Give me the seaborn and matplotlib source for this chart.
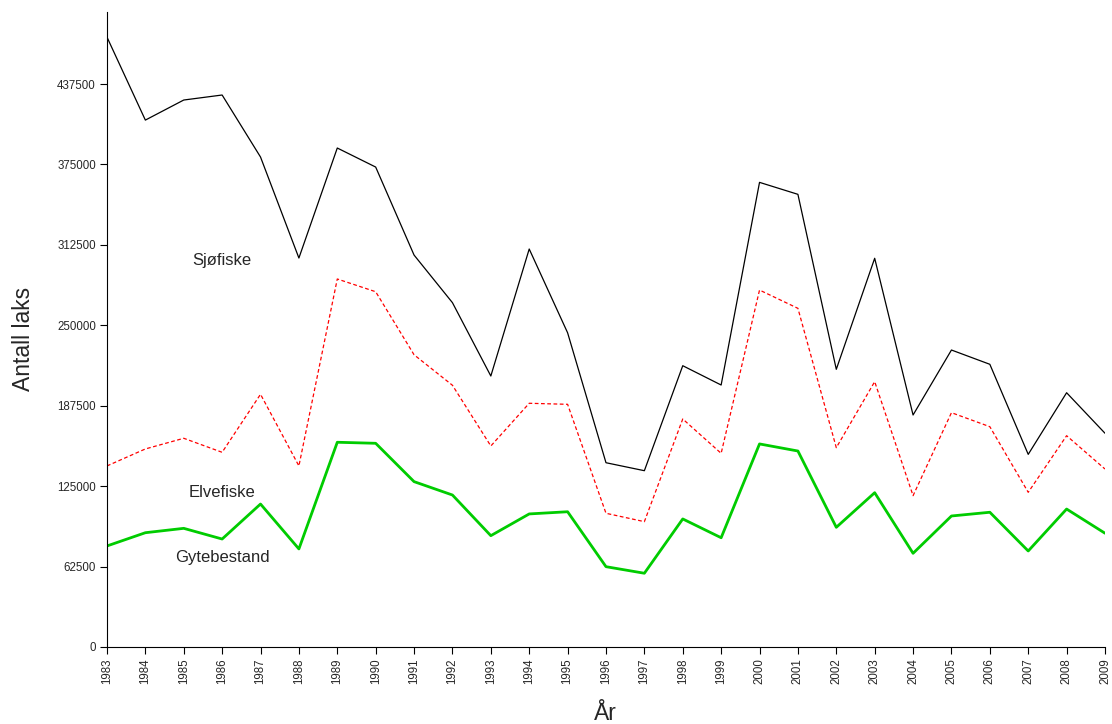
import pandas as pd
import numpy as np
import matplotlib
matplotlib.use("Agg")
import matplotlib.pyplot as plt
import seaborn as sns

# Data
years = list(range(1983, 2010))
sjofiske = [474000, 409500, 425100, 429000, 380800, 302300, 387800, 373000, 304600,
            267600, 210600, 309300, 244200, 143200, 137000, 218600, 203600, 361100,
            351800, 215800, 302100, 180300, 230800, 219700, 149700, 197600, 166100]
elvefiske = [140700, 153900, 162200, 151300, 196400, 140700, 286000, 276100, 227100,
             203400, 156200, 189400, 188600, 103900, 97400, 177200, 150500, 277400,
             263200, 154900, 206200, 117600, 182100, 171200, 120200, 164200, 138300]
gytebestand = [78500, 88800, 92200, 83900, 111100, 76200, 159100, 158300, 128500,
               118100, 86500, 103400, 105100, 62400, 57300, 99500, 84900, 157800,
               152300, 93000, 119900, 72800, 101800, 104700, 74600, 107200, 88400]
y_ticks = [0, 62500, 125000, 187500, 250000, 312500, 375000, 437500]

df = pd.DataFrame({'Year': years, 'Sjofiske': sjofiske,
                   'Elvefiske': elvefiske, 'Gytebestand': gytebestand})

sns.set_style("ticks")
plt.rcParams['font.family'] = ['Liberation Sans', 'DejaVu Sans']

fig = plt.figure(figsize=(11.12, 7.24), dpi=100)
ax = fig.add_axes([0.0962, 0.1064, 0.8975, 0.877])

sns.lineplot(x='Year', y='Sjofiske', data=df, ax=ax, color='black', linewidth=0.9)
sns.lineplot(x='Year', y='Elvefiske', data=df, ax=ax, color='red', linewidth=0.9,
             dashes=False, linestyle=(0, (3, 2)))
sns.lineplot(x='Year', y='Gytebestand', data=df, ax=ax, color='#00cc00', linewidth=2)

ax.set_xlim(1983, 2009)
ax.set_ylim(0, 493500)
ax.set_xticks(years)
ax.set_xticklabels([str(y) for y in years], rotation=90, fontsize=8.3)
ax.set_yticks(y_ticks)
ax.set_yticklabels([str(v) for v in y_ticks], fontsize=8.3)
ax.tick_params(axis='both', length=5, width=0.8, color='black', pad=3)

for side in ['top', 'right']:
    ax.spines[side].set_visible(False)
for side in ['left', 'bottom']:
    ax.spines[side].set_color('black')
    ax.spines[side].set_linewidth(0.8)

ax.set_xlabel('År', fontsize=16.5)
ax.set_ylabel('Antall laks', fontsize=16.5)
ax.xaxis.set_label_coords(0.499, -0.086)
ax.yaxis.set_label_coords(-0.072, 0.485)

# Series labels written inside the plot
ax.text(1986.0, 300000, 'Sjøfiske', fontsize=12, ha='center', va='center')
ax.text(1986.0, 120000, 'Elvefiske', fontsize=12, ha='center', va='center')
ax.text(1986.0, 69500, 'Gytebestand', fontsize=12, ha='center', va='center')

plt.savefig('out.png', dpi=100)
plt.close()
